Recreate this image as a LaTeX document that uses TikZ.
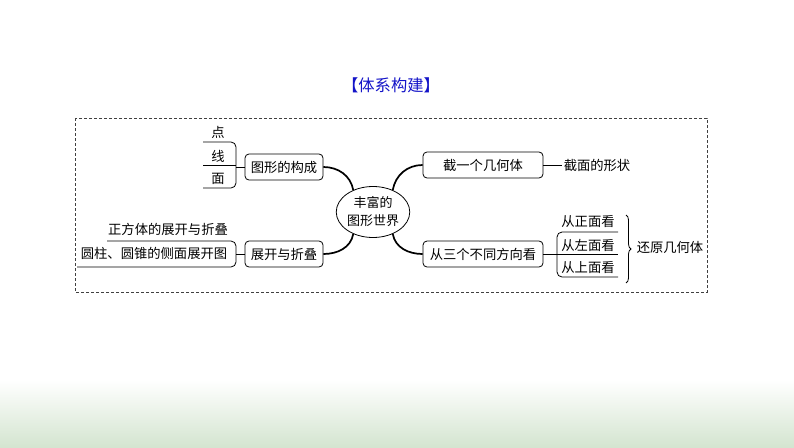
\documentclass[tikz,border=0pt]{standalone}
\usepackage{fontspec}
\setmainfont{Noto Sans CJK SC}
\usetikzlibrary{shapes.geometric,decorations.pathreplacing}
\definecolor{titleblue}{RGB}{20,20,200}
\definecolor{footgreen}{RGB}{212,229,208}
\tikzset{
  hub/.style={ellipse, draw=black, thick, minimum width=70pt, minimum height=51pt, inner sep=0pt, align=center, font=\fontsize{13}{18}\selectfont},
  topic/.style={draw=black, thick, rounded corners=4pt, minimum width=78pt, minimum height=26pt, inner sep=2pt, font=\fontsize{13.3}{15}\selectfont},
  leaf/.style={inner sep=2pt, font=\fontsize{13.3}{15}\selectfont},
  limb/.style={line width=1.7pt},
  twig/.style={thick},
  bracket/.style={thick, rounded corners=5pt},
  frame/.style={draw=black!75, thick, dash pattern=on 3pt off 2pt}
}
\begin{document}
\begin{tikzpicture}[x=1pt,y=-1pt]
  \useasboundingbox (0,0) rectangle (794,447);
  \shade[top color=white, bottom color=footgreen] (0,380) rectangle (794,447);
  \node[font=\fontsize{16.3}{18}\selectfont, text=titleblue] (title) at (391,85) {【体系构建】};
  \draw[frame] (75,118) rectangle (707,292);

  \node[hub] (world) at (373,212) {丰富的\\图形世界};
  \node[topic] (gouc) at (284,167) {图形的构成};
  \node[topic] (zhank) at (284,254) {展开与折叠};
  \node[topic, minimum width=120pt] (jie) at (483,165) {截一个几何体};
  \node[topic, minimum width=120pt] (kan) at (483,254) {从三个不同方向看};
  \draw[limb] (gouc.east) to[out=0, in=100] (world.132);
  \draw[limb] (zhank.east) to[out=0, in=-100] (world.228);
  \draw[limb] (jie.west) to[out=180, in=80] (world.48);
  \draw[limb] (kan.west) to[out=180, in=-80] (world.-48);

  \node[leaf] (dian) at (218,132) {点};
  \node[leaf] (xian) at (218,156) {线};
  \node[leaf] (mian) at (218,179) {面};
  \draw[bracket] (203,142) -| (236,188) -- (203,188);
  \draw[twig] (203,165) -- (236,165);
  \draw[twig] (236,167) -- (gouc.west);

  \node[leaf] (zfti) at (168,229) {正方体的展开与折叠};
  \node[leaf] (yzhu) at (154,253) {圆柱、圆锥的侧面展开图};
  \draw[bracket] (107,241) -| (236,267) -- (77,267);
  \draw[twig] (236,254) -- (zhank.west);

  \node[leaf] (xingz) at (597,165) {截面的形状};
  \draw[twig] (jie.east) -- (xingz.west);

  \node[leaf] (zheng) at (588,222) {从正面看};
  \node[leaf] (zuo) at (588,245) {从左面看};
  \node[leaf] (shang) at (588,268) {从上面看};
  \draw[bracket] (618,232) -| (557,277) -- (618,277);
  \draw[twig] (557,254) -- (618,254);
  \draw[twig] (kan.east) -- (557,254);
  \draw[thick, decorate, decoration={brace, amplitude=5pt}] (626,215) -- (626,283);
  \node[leaf] (huany) at (670,247) {还原几何体};
\end{tikzpicture}
\end{document}
